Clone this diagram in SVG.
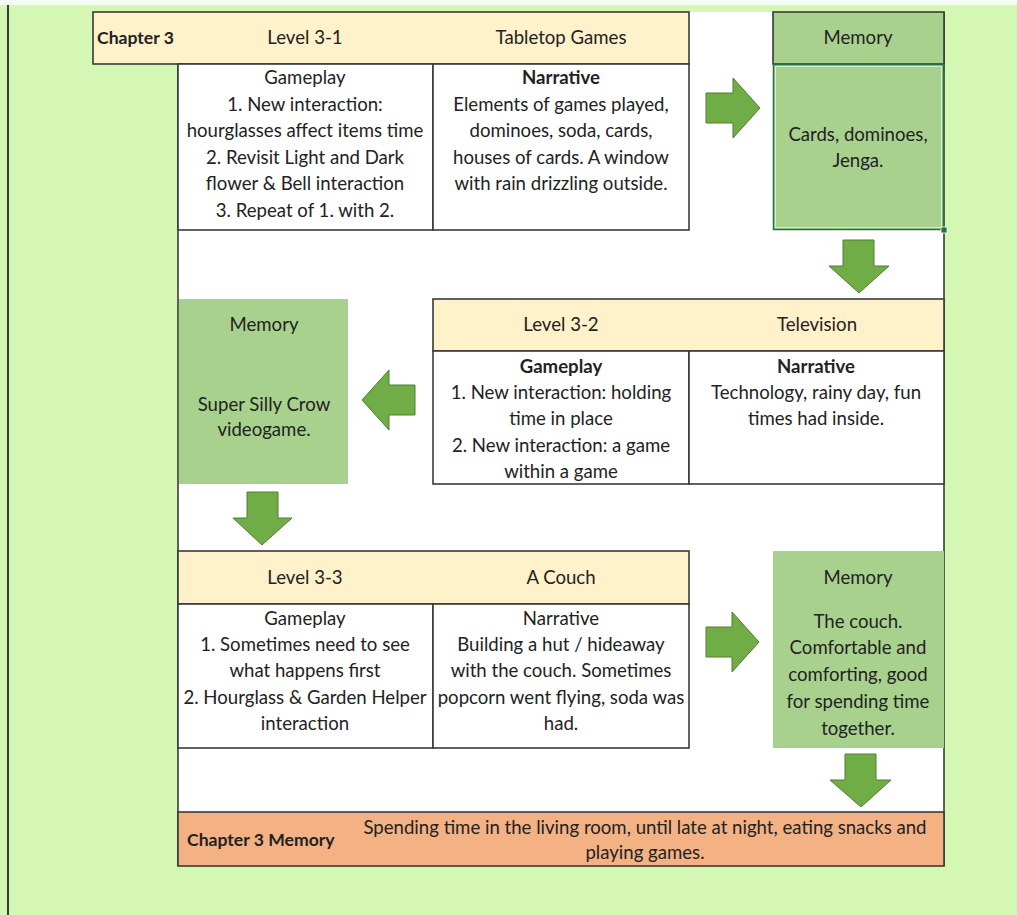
<svg xmlns="http://www.w3.org/2000/svg" width="1017" height="915" viewBox="0 0 1017 915">
<style>
.bd{stroke:#3a3a3a;stroke-width:1.6}
.hdr{fill:#fff1ca}
.wh{fill:#ffffff}
.mem{fill:#a9d18e}
.sal{fill:#f4b183}
.arr{fill:#70ad47;stroke:#507e32;stroke-width:1}
text{font-family:Lato,"Liberation Sans",Arial,sans-serif;font-size:18.6px;fill:#222222;text-anchor:middle}
.b{font-weight:bold}
.l{text-anchor:start}
.s{font-size:17.6px}
</style>
<rect x="0" y="0" width="1017" height="915" fill="#d4f7b4"/>
<rect x="0" y="0" width="1017" height="5" fill="#f4fbef"/>
<line x1="8" y1="5" x2="8" y2="915" stroke="#3a3a3a" stroke-width="2"/>
<rect x="178" y="12" width="766" height="854" fill="#ffffff"/>
<line x1="178" y1="64" x2="178" y2="866" class="bd"/>
<line x1="944" y1="12" x2="944" y2="866" class="bd"/>

<g id="level31">
<rect x="93" y="12" width="596" height="52" class="hdr bd"/>
<text x="97" y="44" class="b l s">Chapter 3</text>
<text x="305" y="44">Level 3-1</text>
<text x="561" y="44">Tabletop Games</text>
<rect x="178" y="64" width="255" height="166" class="wh bd"/>
<rect x="433" y="64" width="256" height="166" class="wh bd"/>
<text x="305" y="84">Gameplay</text>
<text x="305" y="111">1. New interaction:</text>
<text x="305" y="137">hourglasses affect items time</text>
<text x="305" y="164">2. Revisit Light and Dark</text>
<text x="305" y="190">flower &amp; Bell interaction</text>
<text x="305" y="217">3. Repeat of 1. with 2.</text>
<text x="561" y="84" class="b">Narrative</text>
<text x="561" y="111">Elements of games played,</text>
<text x="561" y="137">dominoes, soda, cards,</text>
<text x="561" y="164">houses of cards. A window</text>
<text x="561" y="190">with rain drizzling outside.</text>
</g>

<g id="memory1">
<rect x="773" y="12" width="171" height="52" class="mem bd"/>
<text x="858" y="44">Memory</text>
<rect x="773" y="64" width="171" height="166" class="mem"/>
<rect x="773.5" y="64.5" width="170" height="165" fill="none" stroke="#217346" stroke-width="1.5"/>
<rect x="775.5" y="66.5" width="166" height="161" fill="none" stroke="#d9ecd0" stroke-width="1"/>
<rect x="941" y="227" width="6" height="6" fill="#217346" stroke="#ffffff" stroke-width="0.8"/>
<text x="858" y="141">Cards, dominoes,</text>
<text x="858" y="167">Jenga.</text>
</g>

<g id="level32">
<rect x="433" y="299" width="511" height="52" class="hdr bd"/>
<text x="561" y="331">Level 3-2</text>
<text x="817" y="331">Television</text>
<rect x="433" y="351" width="256" height="133" class="wh bd"/>
<rect x="689" y="351" width="255" height="133" class="wh bd"/>
<text x="561" y="373" class="b">Gameplay</text>
<text x="561" y="399">1. New interaction: holding</text>
<text x="561" y="425">time in place</text>
<text x="561" y="452">2. New interaction: a game</text>
<text x="561" y="478">within a game</text>
<text x="816" y="373" class="b">Narrative</text>
<text x="816" y="399">Technology, rainy day, fun</text>
<text x="816" y="425">times had inside.</text>
</g>

<g id="memory2">
<rect x="179" y="299" width="169" height="185" class="mem"/>
<text x="264" y="331">Memory</text>
<text x="264" y="411">Super Silly Crow</text>
<text x="264" y="436">videogame.</text>
</g>

<g id="level33">
<rect x="178" y="551" width="511" height="53" class="hdr bd"/>
<text x="305" y="584">Level 3-3</text>
<text x="561" y="584">A Couch</text>
<rect x="178" y="604" width="255" height="144" class="wh bd"/>
<rect x="433" y="604" width="256" height="144" class="wh bd"/>
<text x="305" y="625">Gameplay</text>
<text x="305" y="651">1. Sometimes need to see</text>
<text x="305" y="677">what happens first</text>
<text x="305" y="704">2. Hourglass &amp; Garden Helper</text>
<text x="305" y="730">interaction</text>
<text x="561" y="625">Narrative</text>
<text x="561" y="651">Building a hut / hideaway</text>
<text x="561" y="677">with the couch. Sometimes</text>
<text x="561" y="704">popcorn went flying, soda was</text>
<text x="561" y="730">had.</text>
</g>

<g id="memory3">
<rect x="773" y="551" width="171" height="197" class="mem"/>
<text x="858" y="584">Memory</text>
<text x="858" y="628">The couch.</text>
<text x="858" y="654">Comfortable and</text>
<text x="858" y="681">comforting, good</text>
<text x="858" y="708">for spending time</text>
<text x="858" y="735">together.</text>
</g>

<g id="chapter3memory">
<rect x="178" y="812" width="766" height="54" class="sal bd"/>
<text x="187" y="846" class="b l s">Chapter 3 Memory</text>
<text x="645" y="834">Spending time in the living room, until late at night, eating snacks and</text>
<text x="645" y="859">playing games.</text>
</g>

<g id="connectors">
<polygon class="arr" points="706,93 733,93 733,78 760,108 733,138 733,123 706,123"/>
<polygon class="arr" points="843,240 874,240 874,266 889,266 859,293 829,266 843,266"/>
<polygon class="arr" points="415,385 389,385 389,370 362,400 389,430 389,415 415,415"/>
<polygon class="arr" points="247,492 278,492 278,518 292,518 262,545 233,518 247,518"/>
<polygon class="arr" points="706,627 732,627 732,612 759,642 732,672 732,657 706,657"/>
<polygon class="arr" points="845,754 876,754 876,780 891,780 861,807 830,780 845,780"/>
</g>
</svg>
